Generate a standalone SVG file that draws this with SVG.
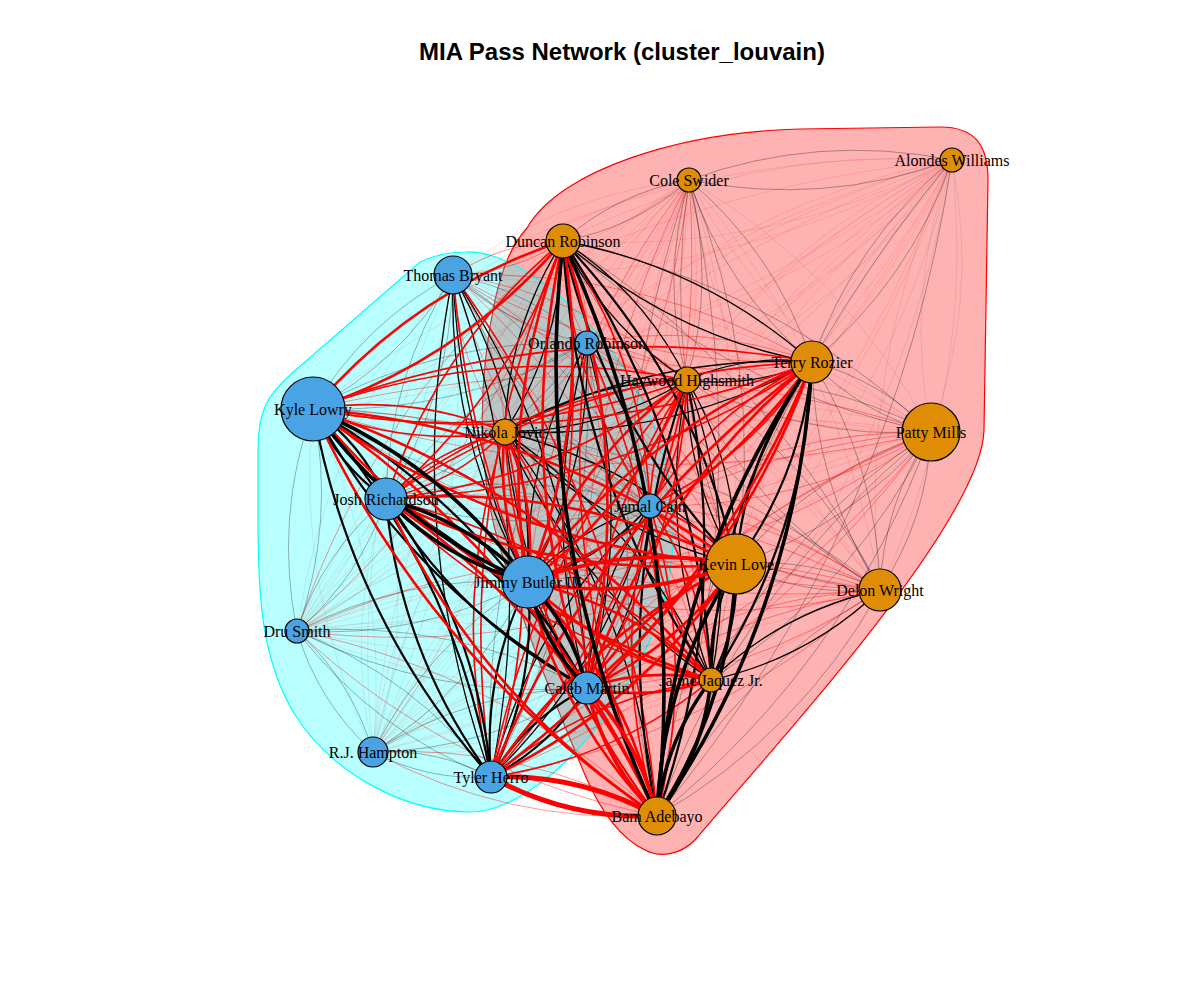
<svg xmlns="http://www.w3.org/2000/svg" width="1200" height="1000" viewBox="0 0 1200 1000">
<style>
.k0{stroke:#000;stroke-opacity:.08;stroke-width:1}
.k1{stroke:#000;stroke-opacity:.3;stroke-width:1}
.k2{stroke:#000;stroke-width:1.3}
.k3{stroke:#000;stroke-width:2.2}
.k4{stroke:#000;stroke-width:3.6}
.r0{stroke:#f00;stroke-opacity:.12;stroke-width:1}
.r1{stroke:#f00;stroke-opacity:.4;stroke-width:1}
.r2{stroke:#f00;stroke-width:1.6}
.r3{stroke:#f00;stroke-width:2.6}
.r4{stroke:#f00;stroke-width:3.8}
.r5{stroke:#f00;stroke-width:5}
.nb{fill:#4AA3E2;stroke:#000;stroke-width:1.2}
.no{fill:#DF8D04;stroke:#000;stroke-width:1.2}
.lb{font-family:"Liberation Serif","Times New Roman",serif;font-size:16px;fill:#000;text-anchor:middle}
.tt{font-family:"Liberation Sans",Arial,sans-serif;font-size:24px;font-weight:bold;fill:#000;text-anchor:middle}
</style>
<defs>
<path id="L" d="M0,0Q.5,.14 1,0Q.5,-.14 0,0" fill="none" vector-effect="non-scaling-stroke"/>
</defs>
<rect width="1200" height="1000" fill="#fff"/>
<text class="tt" x="622" y="60">MIA Pass Network (cluster_louvain)</text>
<g id="hulls">
<path id="hull-orange" d="M527,228 C560,170 680,132 800,129 L940,127 C975,127 988,145 988,180 L984,430 C982,520 780,740 695,840 C680,855 660,858 645,850 C620,838 600,810 585,775 C560,715 520,620 495,530 C478,460 478,380 495,300 C503,265 512,245 527,228 Z" fill="#f00" fill-opacity=".3" stroke="#f00" stroke-width="1.2"/>
<path id="hull-blue" d="M466,252 C520,250 600,320 640,395 C680,470 685,560 650,640 C610,730 530,812 470,812 C400,812 330,770 295,715 C262,660 258,600 258,520 L258,450 C258,410 268,395 290,375 L420,262 C435,255 450,252 466,252 Z" fill="#0ff" fill-opacity=".27" stroke="#0ff" stroke-width="1.2"/>
</g>
<g id="edges" fill="none">
<use href="#L" class="k0" transform="matrix(242 252 -252 242 689 180)"/>
<use href="#L" class="k0" transform="matrix(-184 252 -252 -184 689 180)"/>
<use href="#L" class="k0" transform="matrix(191 410 -410 191 689 180)"/>
<use href="#L" class="k0" transform="matrix(22 500 -500 22 689 180)"/>
<use href="#L" class="k0" transform="matrix(-389 81 -81 -389 952 160)"/>
<use href="#L" class="k0" transform="matrix(-265 220 -220 -265 952 160)"/>
<use href="#L" class="k0" transform="matrix(-21 272 -272 -21 952 160)"/>
<use href="#L" class="k0" transform="matrix(-447 272 -272 -447 952 160)"/>
<use href="#L" class="k0" transform="matrix(-216 404 -404 -216 952 160)"/>
<use href="#L" class="k0" transform="matrix(-72 430 -430 -72 952 160)"/>
<use href="#L" class="k0" transform="matrix(-241 520 -520 -241 952 160)"/>
<use href="#L" class="k0" transform="matrix(-156 356 -356 -156 453 275)"/>
<use href="#L" class="k0" transform="matrix(-80 477 -477 -80 453 275)"/>
<use href="#L" class="k0" transform="matrix(-290 288 -288 -290 587 343)"/>
<use href="#L" class="k0" transform="matrix(-214 409 -409 -214 587 343)"/>
<use href="#L" class="k0" transform="matrix(60 343 -343 60 313 409)"/>
<use href="#L" class="k0" transform="matrix(-426 0 0 -426 931 432)"/>
<use href="#L" class="k0" transform="matrix(-13 253 -253 -13 386 499)"/>
<use href="#L" class="k0" transform="matrix(-353 125 -125 -353 650 506)"/>
<use href="#L" class="k0" transform="matrix(-277 246 -246 -277 650 506)"/>
<use href="#L" class="r0" transform="matrix(-236 95 -95 -236 689 180)"/>
<use href="#L" class="r0" transform="matrix(-102 163 -163 -102 689 180)"/>
<use href="#L" class="r0" transform="matrix(-376 229 -229 -376 689 180)"/>
<use href="#L" class="r0" transform="matrix(-303 319 -319 -303 689 180)"/>
<use href="#L" class="r0" transform="matrix(-39 326 -326 -39 689 180)"/>
<use href="#L" class="r0" transform="matrix(-392 451 -451 -392 689 180)"/>
<use href="#L" class="r0" transform="matrix(-316 572 -572 -316 689 180)"/>
<use href="#L" class="r0" transform="matrix(-198 597 -597 -198 689 180)"/>
<use href="#L" class="r0" transform="matrix(-499 115 -115 -499 952 160)"/>
<use href="#L" class="r0" transform="matrix(-365 183 -183 -365 952 160)"/>
<use href="#L" class="r0" transform="matrix(-639 249 -249 -639 952 160)"/>
<use href="#L" class="r0" transform="matrix(-566 339 -339 -566 952 160)"/>
<use href="#L" class="r0" transform="matrix(-302 346 -346 -302 952 160)"/>
<use href="#L" class="r0" transform="matrix(-424 422 -422 -424 952 160)"/>
<use href="#L" class="r0" transform="matrix(-655 471 -471 -655 952 160)"/>
<use href="#L" class="r0" transform="matrix(-365 528 -528 -365 952 160)"/>
<use href="#L" class="r0" transform="matrix(-579 592 -592 -579 952 160)"/>
<use href="#L" class="r0" transform="matrix(-461 617 -617 -461 952 160)"/>
<use href="#L" class="r0" transform="matrix(-190 511 -511 -190 563 241)"/>
<use href="#L" class="r0" transform="matrix(478 157 -157 478 453 275)"/>
<use href="#L" class="r0" transform="matrix(427 315 -315 427 453 275)"/>
<use href="#L" class="r0" transform="matrix(344 89 -89 344 587 343)"/>
<use href="#L" class="r0" transform="matrix(293 247 -247 293 587 343)"/>
<use href="#L" class="r0" transform="matrix(-515 269 -269 -515 812 362)"/>
<use href="#L" class="r0" transform="matrix(-439 390 -390 -439 812 362)"/>
<use href="#L" class="r0" transform="matrix(-390 251 -251 -390 687 380)"/>
<use href="#L" class="r0" transform="matrix(-314 372 -372 -314 687 380)"/>
<use href="#L" class="r0" transform="matrix(-545 67 -67 -545 931 432)"/>
<use href="#L" class="r0" transform="matrix(-634 199 -199 -634 931 432)"/>
<use href="#L" class="r0" transform="matrix(-558 320 -320 -558 931 432)"/>
<use href="#L" class="r0" transform="matrix(-208 199 -199 -208 505 432)"/>
<use href="#L" class="r0" transform="matrix(-132 320 -320 -132 505 432)"/>
<use href="#L" class="r0" transform="matrix(-363 188 -188 -363 736 564)"/>
<use href="#L" class="r0" transform="matrix(-583 41 -41 -583 880 590)"/>
<use href="#L" class="r0" transform="matrix(-507 162 -162 -507 880 590)"/>
<use href="#L" class="r0" transform="matrix(414 49 -49 414 297 631)"/>
<use href="#L" class="r0" transform="matrix(-338 72 -72 -338 711 680)"/>
<use href="#L" class="k1" transform="matrix(263 -20 20 263 689 180)"/>
<use href="#L" class="k1" transform="matrix(-126 61 -61 -126 689 180)"/>
<use href="#L" class="k1" transform="matrix(123 182 -182 123 689 180)"/>
<use href="#L" class="k1" transform="matrix(-2 200 -200 -2 689 180)"/>
<use href="#L" class="k1" transform="matrix(47 384 -384 47 689 180)"/>
<use href="#L" class="k1" transform="matrix(-32 636 -636 -32 689 180)"/>
<use href="#L" class="k1" transform="matrix(-140 202 -202 -140 952 160)"/>
<use href="#L" class="k1" transform="matrix(-295 656 -656 -295 952 160)"/>
<use href="#L" class="k1" transform="matrix(368 191 -191 368 563 241)"/>
<use href="#L" class="k1" transform="matrix(317 349 -349 317 563 241)"/>
<use href="#L" class="k1" transform="matrix(134 68 -68 134 453 275)"/>
<use href="#L" class="k1" transform="matrix(-140 134 -134 -140 453 275)"/>
<use href="#L" class="k1" transform="matrix(-67 224 -224 -67 453 275)"/>
<use href="#L" class="k1" transform="matrix(197 231 -231 197 453 275)"/>
<use href="#L" class="k1" transform="matrix(-274 66 -66 -274 587 343)"/>
<use href="#L" class="k1" transform="matrix(-201 156 -156 -201 587 343)"/>
<use href="#L" class="k1" transform="matrix(63 163 -163 63 587 343)"/>
<use href="#L" class="k1" transform="matrix(-96 434 -434 -96 587 343)"/>
<use href="#L" class="k1" transform="matrix(119 70 -70 119 812 362)"/>
<use href="#L" class="k1" transform="matrix(68 228 -228 68 812 362)"/>
<use href="#L" class="k1" transform="matrix(244 52 -52 244 687 380)"/>
<use href="#L" class="k1" transform="matrix(193 210 -210 193 687 380)"/>
<use href="#L" class="k1" transform="matrix(337 97 -97 337 313 409)"/>
<use href="#L" class="k1" transform="matrix(-16 222 -222 -16 313 409)"/>
<use href="#L" class="k1" transform="matrix(-195 132 -132 -195 931 432)"/>
<use href="#L" class="k1" transform="matrix(-51 158 -158 -51 931 432)"/>
<use href="#L" class="k1" transform="matrix(-220 248 -248 -220 931 432)"/>
<use href="#L" class="k1" transform="matrix(-274 384 -384 -274 931 432)"/>
<use href="#L" class="k1" transform="matrix(375 158 -158 375 505 432)"/>
<use href="#L" class="k1" transform="matrix(264 7 -7 264 386 499)"/>
<use href="#L" class="k1" transform="matrix(-89 132 -132 -89 386 499)"/>
<use href="#L" class="k1" transform="matrix(144 26 -26 144 736 564)"/>
<use href="#L" class="k1" transform="matrix(-231 49 -49 -231 528 582)"/>
<use href="#L" class="k1" transform="matrix(-155 170 -170 -155 528 582)"/>
<use href="#L" class="k1" transform="matrix(-223 226 -226 -223 880 590)"/>
<use href="#L" class="k1" transform="matrix(290 57 -57 290 297 631)"/>
<use href="#L" class="k1" transform="matrix(76 121 -121 76 297 631)"/>
<use href="#L" class="k1" transform="matrix(194 146 -146 194 297 631)"/>
<use href="#L" class="k1" transform="matrix(-214 64 -64 -214 587 688)"/>
<use href="#L" class="k1" transform="matrix(118 25 -25 118 373 752)"/>
<use href="#L" class="r1" transform="matrix(-161 402 -402 -161 689 180)"/>
<use href="#L" class="r1" transform="matrix(-102 508 -508 -102 689 180)"/>
<use href="#L" class="r1" transform="matrix(-110 34 -34 -110 563 241)"/>
<use href="#L" class="r1" transform="matrix(24 102 -102 24 563 241)"/>
<use href="#L" class="r1" transform="matrix(-266 390 -390 -266 563 241)"/>
<use href="#L" class="r1" transform="matrix(359 87 -87 359 453 275)"/>
<use href="#L" class="r1" transform="matrix(234 105 -105 234 453 275)"/>
<use href="#L" class="r1" transform="matrix(52 157 -157 52 453 275)"/>
<use href="#L" class="r1" transform="matrix(283 289 -289 283 453 275)"/>
<use href="#L" class="r1" transform="matrix(258 405 -405 258 453 275)"/>
<use href="#L" class="r1" transform="matrix(225 19 -19 225 587 343)"/>
<use href="#L" class="r1" transform="matrix(100 37 -37 100 587 343)"/>
<use href="#L" class="r1" transform="matrix(-82 89 -89 -82 587 343)"/>
<use href="#L" class="r1" transform="matrix(149 221 -221 149 587 343)"/>
<use href="#L" class="r1" transform="matrix(124 337 -337 124 587 343)"/>
<use href="#L" class="r1" transform="matrix(618 23 -23 618 313 409)"/>
<use href="#L" class="r1" transform="matrix(567 181 -181 567 313 409)"/>
<use href="#L" class="r1" transform="matrix(-281 74 -74 -281 931 432)"/>
<use href="#L" class="r1" transform="matrix(-403 150 -150 -403 931 432)"/>
<use href="#L" class="r1" transform="matrix(-344 256 -256 -344 931 432)"/>
<use href="#L" class="r1" transform="matrix(-440 345 -345 -440 931 432)"/>
<use href="#L" class="r1" transform="matrix(145 74 -74 145 505 432)"/>
<use href="#L" class="r1" transform="matrix(494 91 -91 494 386 499)"/>
<use href="#L" class="r1" transform="matrix(230 84 -84 230 650 506)"/>
<use href="#L" class="r1" transform="matrix(-439 67 -67 -439 736 564)"/>
<use href="#L" class="r1" transform="matrix(352 8 -8 352 528 582)"/>
<use href="#L" class="r1" transform="matrix(-293 98 -98 -293 880 590)"/>
<use href="#L" class="r1" transform="matrix(-389 187 -187 -389 880 590)"/>
<use href="#L" class="r1" transform="matrix(360 185 -185 360 297 631)"/>
<use href="#L" class="r1" transform="matrix(284 64 -64 284 373 752)"/>
<use href="#L" class="k2" transform="matrix(249 121 -121 249 563 241)"/>
<use href="#L" class="k2" transform="matrix(124 139 -139 124 563 241)"/>
<use href="#L" class="k2" transform="matrix(-58 191 -191 -58 563 241)"/>
<use href="#L" class="k2" transform="matrix(75 307 -307 75 453 275)"/>
<use href="#L" class="k2" transform="matrix(134 413 -413 134 453 275)"/>
<use href="#L" class="k2" transform="matrix(38 502 -502 38 453 275)"/>
<use href="#L" class="k2" transform="matrix(-59 239 -239 -59 587 343)"/>
<use href="#L" class="k2" transform="matrix(0 345 -345 0 587 343)"/>
<use href="#L" class="k2" transform="matrix(-125 18 -18 -125 812 362)"/>
<use href="#L" class="k2" transform="matrix(-307 70 -70 -307 812 362)"/>
<use href="#L" class="k2" transform="matrix(-182 52 -52 -182 687 380)"/>
<use href="#L" class="k2" transform="matrix(49 184 -184 49 687 380)"/>
<use href="#L" class="k2" transform="matrix(24 300 -300 24 687 380)"/>
<use href="#L" class="k2" transform="matrix(231 132 -132 231 505 432)"/>
<use href="#L" class="k2" transform="matrix(206 248 -248 206 505 432)"/>
<use href="#L" class="k2" transform="matrix(152 384 -384 152 505 432)"/>
<use href="#L" class="k2" transform="matrix(-122 76 -76 -122 650 506)"/>
<use href="#L" class="k2" transform="matrix(-63 182 -182 -63 650 506)"/>
<use href="#L" class="k2" transform="matrix(-159 271 -271 -159 650 506)"/>
<use href="#L" class="k2" transform="matrix(-169 90 -90 -169 880 590)"/>
<use href="#L" class="r2" transform="matrix(-177 258 -258 -177 563 241)"/>
<use href="#L" class="r2" transform="matrix(87 265 -265 87 563 241)"/>
<use href="#L" class="r2" transform="matrix(-72 536 -536 -72 563 241)"/>
<use href="#L" class="r2" transform="matrix(204 541 -541 204 453 275)"/>
<use href="#L" class="r2" transform="matrix(70 473 -473 70 587 343)"/>
<use href="#L" class="r2" transform="matrix(-499 47 -47 -499 812 362)"/>
<use href="#L" class="r2" transform="matrix(-426 137 -137 -426 812 362)"/>
<use href="#L" class="r2" transform="matrix(-162 144 -144 -162 812 362)"/>
<use href="#L" class="r2" transform="matrix(-374 29 -29 -374 687 380)"/>
<use href="#L" class="r2" transform="matrix(-301 119 -119 -301 687 380)"/>
<use href="#L" class="r2" transform="matrix(-37 126 -126 -37 687 380)"/>
<use href="#L" class="r2" transform="matrix(-100 308 -308 -100 687 380)"/>
<use href="#L" class="r2" transform="matrix(-196 397 -397 -196 687 380)"/>
<use href="#L" class="r2" transform="matrix(192 23 -23 192 313 409)"/>
<use href="#L" class="r2" transform="matrix(-119 67 -67 -119 505 432)"/>
<use href="#L" class="r2" transform="matrix(82 256 -256 82 505 432)"/>
<use href="#L" class="r2" transform="matrix(-14 345 -345 -14 505 432)"/>
<use href="#L" class="r2" transform="matrix(325 181 -181 325 386 499)"/>
<use href="#L" class="r2" transform="matrix(86 58 -58 86 650 506)"/>
<use href="#L" class="r2" transform="matrix(61 174 -174 61 650 506)"/>
<use href="#L" class="r2" transform="matrix(7 310 -310 7 650 506)"/>
<use href="#L" class="r2" transform="matrix(-220 97 -97 -220 711 680)"/>
<use href="#L" class="k3" transform="matrix(173 323 -323 173 563 241)"/>
<use href="#L" class="k3" transform="matrix(148 439 -439 148 563 241)"/>
<use href="#L" class="k3" transform="matrix(-76 202 -202 -76 812 362)"/>
<use href="#L" class="k3" transform="matrix(-101 318 -318 -101 812 362)"/>
<use href="#L" class="k3" transform="matrix(-30 436 -436 -30 687 380)"/>
<use href="#L" class="k3" transform="matrix(73 90 -90 73 313 409)"/>
<use href="#L" class="k3" transform="matrix(274 279 -279 274 313 409)"/>
<use href="#L" class="k3" transform="matrix(178 368 -368 178 313 409)"/>
<use href="#L" class="k3" transform="matrix(201 189 -189 201 386 499)"/>
<use href="#L" class="k3" transform="matrix(105 278 -278 105 386 499)"/>
<use href="#L" class="k3" transform="matrix(-25 116 -116 -25 736 564)"/>
<use href="#L" class="k3" transform="matrix(-37 195 -195 -37 528 582)"/>
<use href="#L" class="k3" transform="matrix(-96 89 -89 -96 587 688)"/>
<use href="#L" class="r3" transform="matrix(-250 168 -168 -250 563 241)"/>
<use href="#L" class="r3" transform="matrix(-35 341 -341 -35 563 241)"/>
<use href="#L" class="r3" transform="matrix(24 447 -447 24 563 241)"/>
<use href="#L" class="r3" transform="matrix(-284 220 -220 -284 812 362)"/>
<use href="#L" class="r3" transform="matrix(-225 326 -326 -225 812 362)"/>
<use href="#L" class="r3" transform="matrix(-321 415 -415 -321 812 362)"/>
<use href="#L" class="r3" transform="matrix(-159 202 -202 -159 687 380)"/>
<use href="#L" class="r3" transform="matrix(423 155 -155 423 313 409)"/>
<use href="#L" class="r3" transform="matrix(398 271 -271 398 313 409)"/>
<use href="#L" class="r3" transform="matrix(344 407 -407 344 313 409)"/>
<use href="#L" class="r3" transform="matrix(23 150 -150 23 505 432)"/>
<use href="#L" class="r3" transform="matrix(350 65 -65 350 386 499)"/>
<use href="#L" class="r3" transform="matrix(271 317 -317 271 386 499)"/>
<use href="#L" class="r3" transform="matrix(-149 124 -124 -149 736 564)"/>
<use href="#L" class="r3" transform="matrix(-245 213 -213 -245 736 564)"/>
<use href="#L" class="r3" transform="matrix(183 98 -98 183 528 582)"/>
<use href="#L" class="r3" transform="matrix(129 234 -234 129 528 582)"/>
<use href="#L" class="r3" transform="matrix(-124 8 -8 -124 711 680)"/>
<use href="#L" class="k4" transform="matrix(94 575 -575 94 563 241)"/>
<use href="#L" class="k4" transform="matrix(-155 454 -454 -155 812 362)"/>
<use href="#L" class="k4" transform="matrix(215 173 -173 215 313 409)"/>
<use href="#L" class="k4" transform="matrix(142 83 -83 142 386 499)"/>
<use href="#L" class="k4" transform="matrix(-79 252 -252 -79 736 564)"/>
<use href="#L" class="k4" transform="matrix(59 106 -106 59 528 582)"/>
<use href="#L" class="k4" transform="matrix(-54 136 -136 -54 711 680)"/>
<use href="#L" class="r4" transform="matrix(-208 18 -18 -208 736 564)"/>
<use href="#L" class="r4" transform="matrix(70 128 -128 70 587 688)"/>
<use href="#L" class="r5" transform="matrix(166 39 -39 166 491 777)"/>
</g>
<g id="nodes">
<g id="n-cole-swider"><circle class="no" cx="689" cy="180" r="12"/><text class="lb" x="689" y="186">Cole Swider</text></g>
<g id="n-alondes-williams"><circle class="no" cx="952" cy="160" r="12"/><text class="lb" x="952" y="166">Alondes Williams</text></g>
<g id="n-duncan-robinson"><circle class="no" cx="563" cy="241" r="17"/><text class="lb" x="563" y="247">Duncan Robinson</text></g>
<g id="n-thomas-bryant"><circle class="nb" cx="453" cy="275" r="19"/><text class="lb" x="453" y="281">Thomas Bryant</text></g>
<g id="n-orlando-robinson"><circle class="nb" cx="587" cy="343" r="12"/><text class="lb" x="587" y="349">Orlando Robinson</text></g>
<g id="n-terry-rozier"><circle class="no" cx="812" cy="362" r="21"/><text class="lb" x="812" y="368">Terry Rozier</text></g>
<g id="n-haywood-highsmith"><circle class="no" cx="687" cy="380" r="13"/><text class="lb" x="687" y="386">Haywood Highsmith</text></g>
<g id="n-kyle-lowry"><circle class="nb" cx="313" cy="409" r="32"/><text class="lb" x="313" y="415">Kyle Lowry</text></g>
<g id="n-patty-mills"><circle class="no" cx="931" cy="432" r="29"/><text class="lb" x="931" y="438">Patty Mills</text></g>
<g id="n-nikola-jovic"><circle class="no" cx="505" cy="432" r="13"/><text class="lb" x="505" y="438">Nikola Jovic</text></g>
<g id="n-josh-richardson"><circle class="nb" cx="386" cy="499" r="21"/><text class="lb" x="386" y="505">Josh Richardson</text></g>
<g id="n-jamal-cain"><circle class="nb" cx="650" cy="506" r="12"/><text class="lb" x="650" y="512">Jamal Cain</text></g>
<g id="n-kevin-love"><circle class="no" cx="736" cy="564" r="30"/><text class="lb" x="736" y="570">Kevin Love</text></g>
<g id="n-jimmy-butler"><circle class="nb" cx="528" cy="582" r="26"/><text class="lb" x="528" y="588">Jimmy Butler III</text></g>
<g id="n-delon-wright"><circle class="no" cx="880" cy="590" r="21"/><text class="lb" x="880" y="596">Delon Wright</text></g>
<g id="n-dru-smith"><circle class="nb" cx="297" cy="631" r="12"/><text class="lb" x="297" y="637">Dru Smith</text></g>
<g id="n-jaime-jaquez"><circle class="no" cx="711" cy="680" r="12"/><text class="lb" x="711" y="686">Jaime Jaquez Jr.</text></g>
<g id="n-caleb-martin"><circle class="nb" cx="587" cy="688" r="16"/><text class="lb" x="587" y="694">Caleb Martin</text></g>
<g id="n-rj-hampton"><circle class="nb" cx="373" cy="752" r="15"/><text class="lb" x="373" y="758">R.J. Hampton</text></g>
<g id="n-tyler-herro"><circle class="nb" cx="491" cy="777" r="16"/><text class="lb" x="491" y="783">Tyler Herro</text></g>
<g id="n-bam-adebayo"><circle class="no" cx="657" cy="816" r="19"/><text class="lb" x="657" y="822">Bam Adebayo</text></g>
</g>
</svg>
